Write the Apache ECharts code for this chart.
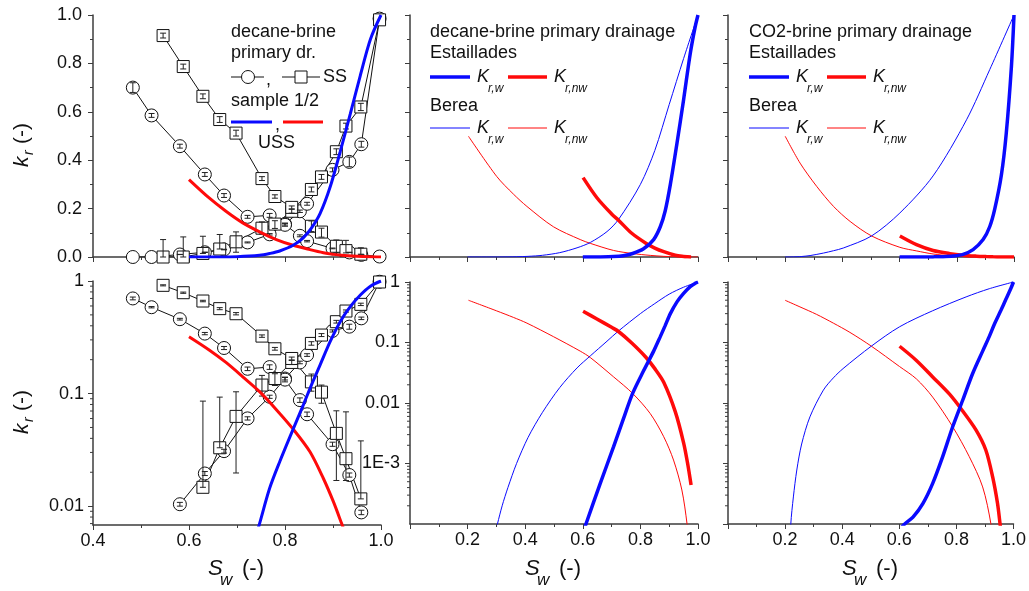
<!DOCTYPE html>
<html>
<head>
<meta charset="utf-8">
<title>Relative permeability, primary drainage</title>
<script src="https://cdn.jsdelivr.net/npm/echarts@6/dist/echarts.min.js"></script>
<style>
  html, body { margin: 0; padding: 0; background: #fff; }
  #chart { width: 1029px; height: 591px; }
</style>
</head>
<body>
<div id="chart"></div>
<script>
// ---------- steady-state (SS) decane-brine primary drainage ----------
// sample 1 (circles)
const ss1Sw    = [0.483, 0.522, 0.581, 0.633, 0.673, 0.722, 0.768, 0.800, 0.831, 0.846, 0.899, 0.934, 0.959, 0.997];
const ss1KrW   = [0, 0, 0.0104, 0.0195, 0.0308, 0.0602, 0.0937, 0.136, 0.189, 0.220, 0.360, 0.393, 0.466, 0.985];
const ss1KrNw  = [0.700, 0.585, 0.458, 0.341, 0.254, 0.166, 0.172, 0.133, 0.0875, 0.0655, 0.0355, 0.0189, 0.0088, 0.002];
const ss1ErrW  = [0, 0, 0.0004, 0.0008, 0.0012, 0.002, 0.003, 0.004, 0.005, 0.006, 0.008, 0.02, 0.012, 0];
const ss1ErrNw = [0.02, 0.008, 0.008, 0.008, 0.008, 0.006, 0.008, 0.006, 0.004, 0.003, 0.0015, 0.0008, 0.0004, 0];

// sample 2 (squares)
const ss2Sw      = [0.546, 0.588, 0.629, 0.664, 0.698, 0.752, 0.779, 0.814, 0.855, 0.876, 0.907, 0.927, 0.958, 0.997];
const ss2KrW     = [0, 0, 0.0147, 0.033, 0.0627, 0.119, 0.136, 0.189, 0.279, 0.331, 0.435, 0.541, 0.620, 0.980];
const ss2KrNw    = [0.915, 0.787, 0.664, 0.568, 0.512, 0.324, 0.250, 0.205, 0.127, 0.103, 0.0443, 0.0264, 0.0116, null];
const ss2ErrWLo  = [0, 0, 0, 0, 0.043, 0.024, 0.018, 0.008, 0.01, 0.01, 0.012, 0.012, 0.015, 0];
const ss2ErrWHi  = [0.072, 0.083, 0.071, 0.060, 0.041, 0.026, 0.014, 0.008, 0.01, 0.01, 0.012, 0.012, 0.015, 0];
const ss2ErrNwLo = [0.01, 0.01, 0.01, 0.012, 0.012, 0.008, 0.007, 0.006, 0.022, 0.021, 0.0274, 0.0095, 0, null];
const ss2ErrNwHi = [0.01, 0.01, 0.01, 0.012, 0.012, 0.008, 0.007, 0.006, 0.022, 0.016, 0.026, 0.0424, 0.0264, null];

// unsteady-state (USS) curves, sample 1/2
const ussSwW  = [0.600, 0.650, 0.700, 0.747, 0.768, 0.789, 0.817, 0.838, 0.855, 0.873, 0.894, 0.915, 0.936, 0.957, 0.978, 1.000];
const ussKrW  = [0.00006, 0.00025, 0.0014, 0.0070, 0.0144, 0.0248, 0.0483, 0.079, 0.119, 0.179, 0.289, 0.435, 0.591, 0.751, 0.900, 1.0];
const ussSwNw = [0.600, 0.642, 0.677, 0.712, 0.747, 0.782, 0.817, 0.852, 0.880, 0.901, 0.918, 0.950, 0.975, 1.000];
const ussKrNw = [0.320, 0.244, 0.189, 0.141, 0.104, 0.072, 0.0483, 0.0304, 0.0176, 0.0109, 0.0070, 0.003, 0.001, 0.0002];

// ---------- decane-brine primary drainage ----------
const decEstSwW  = [0.600, 0.611, 0.660, 0.707, 0.740, 0.773, 0.811, 0.846, 0.869, 0.886, 0.904, 0.927, 0.950, 0.973, 0.990, 1.000];
const decEstKrW  = [0.00007, 0.0001, 0.00046, 0.0019, 0.0053, 0.0144, 0.034, 0.072, 0.125, 0.19, 0.30, 0.47, 0.65, 0.84, 0.95, 1.0];
const decEstSwNw = [0.601, 0.649, 0.700, 0.724, 0.770, 0.819, 0.850, 0.881, 0.921, 0.950, 0.964, 0.976];
const decEstKrNw = [0.328, 0.245, 0.178, 0.152, 0.098, 0.057, 0.037, 0.022, 0.0072, 0.0022, 0.0010, 0.00044];
const decBerSwW  = [0.200, 0.3036, 0.320, 0.340, 0.370, 0.410, 0.460, 0.520, 0.580, 0.626, 0.684, 0.724, 0.800, 0.850, 0.900, 0.950, 1.000];
const decBerKrW  = [0.000001, 0.0001, 0.0002, 0.0004, 0.001, 0.0027, 0.0070, 0.018, 0.038, 0.060, 0.105, 0.155, 0.30, 0.44, 0.63, 0.82, 1.0];
const decBerSwNw = [0.203, 0.301, 0.359, 0.406, 0.498, 0.591, 0.626, 0.707, 0.773, 0.834, 0.881, 0.915, 0.944, 0.962, 0.985, 1.000];
const decBerKrNw = [0.499, 0.333, 0.26, 0.209, 0.125, 0.072, 0.0564, 0.027, 0.0144, 0.0067, 0.00277, 0.00114, 0.000365, 0.0001, 0.00001, 0.000001];

// ---------- CO2-brine primary drainage ----------
const co2EstSwW  = [0.600, 0.619, 0.648, 0.683, 0.717, 0.752, 0.787, 0.822, 0.857, 0.892, 0.915, 0.933, 0.956, 0.973, 0.991, 1.000];
const co2EstKrW  = [0.00008, 0.0001, 0.00013, 0.00022, 0.00047, 0.0013, 0.00405, 0.0111, 0.0307, 0.072, 0.125, 0.20, 0.34, 0.512, 0.788, 1.0];
const co2EstSwNw = [0.601, 0.659, 0.717, 0.776, 0.820, 0.869, 0.903, 0.927, 0.944, 0.953, 0.970, 1.000];
const co2EstKrNw = [0.0867, 0.051, 0.027, 0.0140, 0.0076, 0.00356, 0.00167, 0.0006, 0.00022, 0.0001, 0.00002, 0.000001];
const co2BerSwW  = [0.200, 0.220, 0.229, 0.241, 0.258, 0.287, 0.334, 0.369, 0.403, 0.502, 0.601, 0.717, 0.834, 0.915, 1.000];
const co2BerKrW  = [0.000001, 0.0001, 0.00028, 0.00078, 0.0021, 0.0059, 0.0163, 0.026, 0.037, 0.087, 0.182, 0.335, 0.567, 0.774, 1.0];
const co2BerSwNw = [0.200, 0.252, 0.310, 0.369, 0.427, 0.502, 0.601, 0.660, 0.717, 0.787, 0.845, 0.892, 0.921, 0.950, 1.000];
const co2BerKrNw = [0.499, 0.388, 0.292, 0.209, 0.147, 0.087, 0.040, 0.025, 0.0125, 0.00405, 0.0013, 0.00041, 0.0001, 0.00001, 0.000001];

// minor ticks of the logarithmic axes (mantissas within each decade)
const logMinorMantissas = [2, 3, 4, 5, 6, 7, 8, 9];
const logMinorDecades = [1e-4, 1e-3, 1e-2, 1e-1];

// ---------- styling ----------
const AXIS_COLOR = '#3c3c3c';
const TEXT_COLOR = '#111';
const FONT = '"Liberation Sans", Arial, Helvetica, sans-serif';
const BLUE = '#0a0aff';
const RED = '#ff0a0a';

// panels: 0 top-left, 1 top-middle, 2 top-right, 3 bottom-left, 4 bottom-middle, 5 bottom-right
const GRIDS = [
  { left: 93,  top: 15,  width: 288, height: 242 },
  { left: 410, top: 15,  width: 288, height: 242 },
  { left: 728, top: 15,  width: 286, height: 242 },
  { left: 93,  top: 281, width: 288, height: 244 },
  { left: 410, top: 282, width: 288, height: 242 },
  { left: 728, top: 282, width: 286, height: 242 }
];
const LOG_MIN = [null, null, null, 0.0068, 1e-4, 1e-4];

const axisLine = { onZero: false, lineStyle: { color: AXIS_COLOR, width: 1.5 } };
const axisTick = { length: 5, lineStyle: { color: AXIS_COLOR, width: 1 } };
const minorTick = { show: true, splitNumber: 2, length: 3, lineStyle: { color: AXIS_COLOR, width: 1 } };

function xAxisDef(panel, min, showLabels) {
  return {
    type: 'value', gridIndex: panel, min: min, max: 1, interval: 0.2,
    axisLine, axisTick, minorTick,
    splitLine: { show: false }, minorSplitLine: { show: false },
    axisLabel: {
      show: showLabels, fontSize: 18, color: TEXT_COLOR, fontFamily: FONT, margin: 7,
      formatter: v => (Math.abs(v) < 1e-9 ? '' : v.toFixed(1))
    }
  };
}

function yLinDef(panel, showLabels) {
  return {
    type: 'value', gridIndex: panel, min: 0, max: 1, interval: 0.2,
    axisLine, axisTick, minorTick,
    splitLine: { show: false }, minorSplitLine: { show: false },
    axisLabel: {
      show: showLabels, fontSize: 18, color: TEXT_COLOR, fontFamily: FONT, margin: 11,
      formatter: v => v.toFixed(1)
    }
  };
}

function logLabel(v) {
  const l = Math.log10(v);
  const e = Math.round(l);
  if (Math.abs(l - e) > 1e-6) return '';
  if (e === 0) return '1';
  if (e >= -2) return Math.pow(10, e).toFixed(-e);
  if (e <= -4) return '';
  return '1E' + e;
}

function yLogDef(panel, showLabels, margin) {
  return {
    type: 'log', logBase: 10, gridIndex: panel, min: LOG_MIN[panel], max: 1,
    axisLine, axisTick, minorTick: { show: false },
    splitLine: { show: false }, minorSplitLine: { show: false },
    axisLabel: {
      show: showLabels, fontSize: 18, color: TEXT_COLOR, fontFamily: FONT, margin: margin,
      showMinLabel: false, formatter: logLabel
    }
  };
}

// ---------- series builders ----------
function markerSeries(panel, sw, kr, symbol) {
  const min = LOG_MIN[panel];
  const data = [];
  sw.forEach((s, i) => {
    const v = kr[i];
    if (v == null) return;
    if (min != null && v < min) return;
    data.push([s, v]);
  });
  return {
    type: 'line', xAxisIndex: panel, yAxisIndex: panel, data,
    symbol, symbolSize: symbol === 'rect' ? 12 : 13, showAllSymbol: true,
    itemStyle: { color: '#fff', borderColor: '#111', borderWidth: 1 },
    lineStyle: { color: '#111', width: 1 },
    z: 3, silent: true
  };
}

function errorBarSeries(panel, sw, kr, lo, hi) {
  const min = LOG_MIN[panel];
  const data = [];
  sw.forEach((s, i) => {
    const v = kr[i];
    if (v == null || lo[i] == null) return;
    let a = v - lo[i];
    const b = v + hi[i];
    if (min != null) {
      if (v < min) return;
      a = Math.max(a, min);
    }
    if (b - a <= 0) return;
    data.push([s, a, b]);
  });
  return {
    type: 'custom', xAxisIndex: panel, yAxisIndex: panel, z: 4, silent: true,
    data, encode: { x: 0, y: [1, 2] },
    renderItem(params, api) {
      const p1 = api.coord([api.value(0), api.value(1)]);
      const p2 = api.coord([api.value(0), api.value(2)]);
      const c = 3;
      const st = { stroke: '#222', lineWidth: 1 };
      return {
        type: 'group', children: [
          { type: 'line', shape: { x1: p1[0], y1: p1[1], x2: p2[0], y2: p2[1] }, style: st },
          { type: 'line', shape: { x1: p1[0] - c, y1: p1[1], x2: p1[0] + c, y2: p1[1] }, style: st },
          { type: 'line', shape: { x1: p2[0] - c, y1: p2[1], x2: p2[0] + c, y2: p2[1] }, style: st }
        ]
      };
    }
  };
}

function curveSeries(panel, sw, kr, color, width) {
  return {
    type: 'line', xAxisIndex: panel, yAxisIndex: panel,
    data: sw.map((s, i) => [s, kr[i]]),
    showSymbol: false, symbol: 'none', smooth: 0.3,
    lineStyle: { color, width }, z: 5, silent: true, clip: true
  };
}

function logMinorTickSeries(panel) {
  const min = LOG_MIN[panel];
  const data = [];
  logMinorDecades.forEach(d => logMinorMantissas.forEach(m => {
    if (m * d >= min) data.push([panel === 3 ? 0.4 : 0, m * d]);
  }));
  return {
    type: 'custom', xAxisIndex: panel, yAxisIndex: panel, silent: true, z: 6,
    data, encode: { x: 0, y: 1 },
    renderItem(params, api) {
      const p = api.coord([api.value(0), api.value(1)]);
      return { type: 'line', shape: { x1: p[0] - 3, y1: p[1], x2: p[0], y2: p[1] },
               style: { stroke: AXIS_COLOR, lineWidth: 1 } };
    }
  };
}

const series = [];
// left column: SS measurements and USS curves, linear and log
[0, 3].forEach(p => {
  series.push(markerSeries(p, ss1Sw, ss1KrW, 'circle'));
  series.push(markerSeries(p, ss1Sw, ss1KrNw, 'circle'));
  series.push(markerSeries(p, ss2Sw, ss2KrW, 'rect'));
  series.push(markerSeries(p, ss2Sw, ss2KrNw, 'rect'));
  series.push(errorBarSeries(p, ss1Sw, ss1KrW, ss1ErrW, ss1ErrW));
  series.push(errorBarSeries(p, ss1Sw, ss1KrNw, ss1ErrNw, ss1ErrNw));
  series.push(errorBarSeries(p, ss2Sw, ss2KrW, ss2ErrWLo, ss2ErrWHi));
  series.push(errorBarSeries(p, ss2Sw, ss2KrNw, ss2ErrNwLo, ss2ErrNwHi));
  series.push(curveSeries(p, ussSwNw, ussKrNw, RED, 3));
  series.push(curveSeries(p, ussSwW, ussKrW, BLUE, 3));
});
// middle column: decane-brine
[1, 4].forEach(p => {
  series.push(curveSeries(p, decBerSwNw, decBerKrNw, RED, 1));
  series.push(curveSeries(p, decBerSwW, decBerKrW, BLUE, 1));
  series.push(curveSeries(p, decEstSwNw, decEstKrNw, RED, 3.5));
  series.push(curveSeries(p, decEstSwW, decEstKrW, BLUE, 3.5));
});
// right column: CO2-brine
[2, 5].forEach(p => {
  series.push(curveSeries(p, co2BerSwNw, co2BerKrNw, RED, 1));
  series.push(curveSeries(p, co2BerSwW, co2BerKrW, BLUE, 1));
  series.push(curveSeries(p, co2EstSwNw, co2EstKrNw, RED, 3.5));
  series.push(curveSeries(p, co2EstSwW, co2EstKrW, BLUE, 3.5));
});
series.push(logMinorTickSeries(3));
series.push(logMinorTickSeries(4));
series.push(logMinorTickSeries(5));

// ---------- text, legends and axis titles ----------
function txt(x, y, text, size, italic, align) {
  return {
    type: 'text', x, y, silent: true, z: 100,
    style: {
      text, fill: TEXT_COLOR, fontSize: size, fontFamily: FONT,
      fontStyle: italic ? 'italic' : 'normal',
      align: align || 'left', verticalAlign: 'middle',
      textAlign: align || 'left', textVerticalAlign: 'middle'
    }
  };
}
function seg(x1, y1, x2, y2, color, width) {
  return { type: 'line', silent: true, z: 100, shape: { x1, y1, x2, y2 }, style: { stroke: color, lineWidth: width } };
}

function xTitle(cx) {
  return [
    txt(cx - 29, 569, 'S', 22, true),
    txt(cx - 17, 580, 'w', 17, true),
    txt(cx + 5, 569, '(-)', 22, false)
  ];
}
function yTitle(cy) {
  return {
    type: 'group', x: 22, y: cy, rotation: Math.PI / 2, z: 100,
    children: [
      txt(-21, 0, 'k', 21, true),
      txt(-9, 7, 'r', 14, true),
      txt(2, 0, '(-)', 21, false)
    ]
  };
}

function krLegendRow(x0, y, width) {
  return [
    seg(x0, y, x0 + 40, y, BLUE, width),
    txt(x0 + 47, y, 'K', 18, true),
    txt(x0 + 58, y + 12, 'r,w', 12, true),
    seg(x0 + 78, y, x0 + 117, y, RED, width),
    txt(x0 + 124, y, 'K', 18, true),
    txt(x0 + 135, y + 12, 'r,nw', 12, true)
  ];
}
function panelLegend(x0, title) {
  return [
    txt(x0, 32, title, 18),
    txt(x0, 53, 'Estaillades', 18),
    ...krLegendRow(x0, 77, 3.5),
    txt(x0, 106, 'Berea', 18),
    ...krLegendRow(x0, 128, 1)
  ];
}

const leftLegend = [
  txt(231, 32, 'decane-brine', 18),
  txt(231, 53, 'primary dr.', 18),
  seg(231, 77, 264, 77, '#111', 1),
  { type: 'circle', silent: true, z: 101, shape: { cx: 248, cy: 77, r: 6.5 }, style: { fill: '#fff', stroke: '#111', lineWidth: 1 } },
  txt(266, 80, ',', 18),
  seg(282, 77, 320, 77, '#111', 1),
  { type: 'rect', silent: true, z: 101, shape: { x: 295, y: 71, width: 12, height: 12 }, style: { fill: '#fff', stroke: '#111', lineWidth: 1 } },
  txt(323, 77, 'SS', 18),
  txt(231, 101, 'sample 1/2', 18),
  seg(231, 122, 272, 122, BLUE, 3),
  txt(275, 125, ',', 18),
  seg(283, 122, 323, 122, RED, 3),
  txt(258, 143, 'USS', 18)
];

const elements = [
  ...leftLegend,
  ...panelLegend(430, 'decane-brine primary drainage'),
  ...panelLegend(749, 'CO2-brine primary drainage'),
  ...xTitle(237), ...xTitle(554), ...xTitle(871),
  yTitle(146), yTitle(413)
];

const chart = echarts.init(document.getElementById('chart'), null, { renderer: 'canvas' });
chart.setOption({
  animation: false,
  backgroundColor: '#fff',
  textStyle: { fontFamily: FONT },
  grid: GRIDS,
  xAxis: [
    xAxisDef(0, 0.4, false), xAxisDef(1, 0, false), xAxisDef(2, 0, false),
    xAxisDef(3, 0.4, true), xAxisDef(4, 0, true), xAxisDef(5, 0, true)
  ],
  yAxis: [
    yLinDef(0, true), yLinDef(1, false), yLinDef(2, false),
    yLogDef(3, true, 9), yLogDef(4, true, 10), yLogDef(5, false, 10)
  ],
  series,
  graphic: { elements }
});
</script>
</body>
</html>
